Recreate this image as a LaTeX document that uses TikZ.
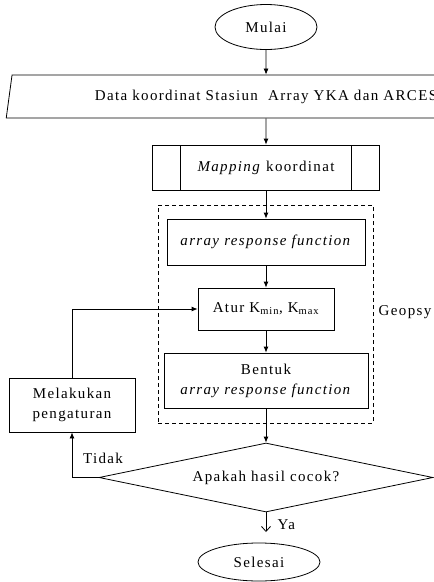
\documentclass[tikz,border=0pt]{standalone}
\usepackage{fontspec}
\setmainfont[LetterSpace=9]{Liberation Serif}
\usepackage{tikz}
\usetikzlibrary{shapes.geometric,arrows.meta}

\begin{document}
\begin{tikzpicture}[x=1pt,y=-1pt,line width=0.8pt,
  every node/.style={font=\fontsize{15}{20}\selectfont},
  box/.style={draw, rectangle, inner sep=0pt, align=center},
  term/.style={draw, ellipse, inner sep=0pt},
  arr/.style={-{Latex[length=6pt,width=5pt]}},
  openarr/.style={-{Straight Barb[length=5pt,width=9pt]}}]
\useasboundingbox (0,0) rectangle (434,582);
\clip (0,0) rectangle (434,582);
\node[term, minimum width=102, minimum height=45] (mulai) at (266,27){Mulai};
\node[draw, trapezium, trapezium left angle=74, trapezium right angle=106,
  trapezium stretches=true, minimum width=520, minimum height=43, inner sep=0pt] (data) at (266,96.5){Data koordinat Stasiun\ \ Array YKA dan ARCES};
\node[box, minimum width=227, minimum height=45,
  path picture={\draw ([xshift=28pt]path picture bounding box.north west) -- ([xshift=28pt]path picture bounding box.south west);
                \draw ([xshift=-28pt]path picture bounding box.north east) -- ([xshift=-28pt]path picture bounding box.south east);}] (map) at (266,167.5){\textit{Mapping} koordinat};
\node[draw, dash pattern=on 4pt off 3pt, line width=0.6pt, minimum width=215, minimum height=218] (geo) at (265.5,314){};
\node[anchor=west] (geopsy) at (375,312){Geopsy};
\node[box, minimum width=198, minimum height=46] (arf) at (266,242){\textit{array response function}};
\node[box, minimum width=136, minimum height=42] (atur) at (266,309){Atur K\textsubscript{min}, K\textsubscript{max}};
\node[box, minimum width=204, minimum height=55] (bentuk) at (266,380.5){Bentuk\\\textit{array response function}};
\node[box, minimum width=126, minimum height=54] (lakukan) at (72,405){Melakukan\\pengaturan};
\node[draw, diamond, aspect=4.8, inner sep=0pt, minimum width=334, minimum height=69] (cek) at (266,477.5){Apakah hasil cocok?};
\node[term, minimum width=122, minimum height=38] (selesai) at (259,562){Selesai};
\coordinate (ya) at (266,532);
\node (tidak) at (103,458){Tidak};
\node[anchor=west] (yalabel) at (274,525){Ya};
\foreach \from/\to in
{mulai/data,data/map,map/arf,arf/atur,atur/bentuk,bentuk/cek}
\draw[arr] (\from) -- (\to);
\draw[arr] (cek.west) -| (lakukan.south);
\draw[arr] (lakukan.north) |- (atur.west);
\draw[openarr] (cek.south) -- (ya);
\end{tikzpicture}
\end{document}
